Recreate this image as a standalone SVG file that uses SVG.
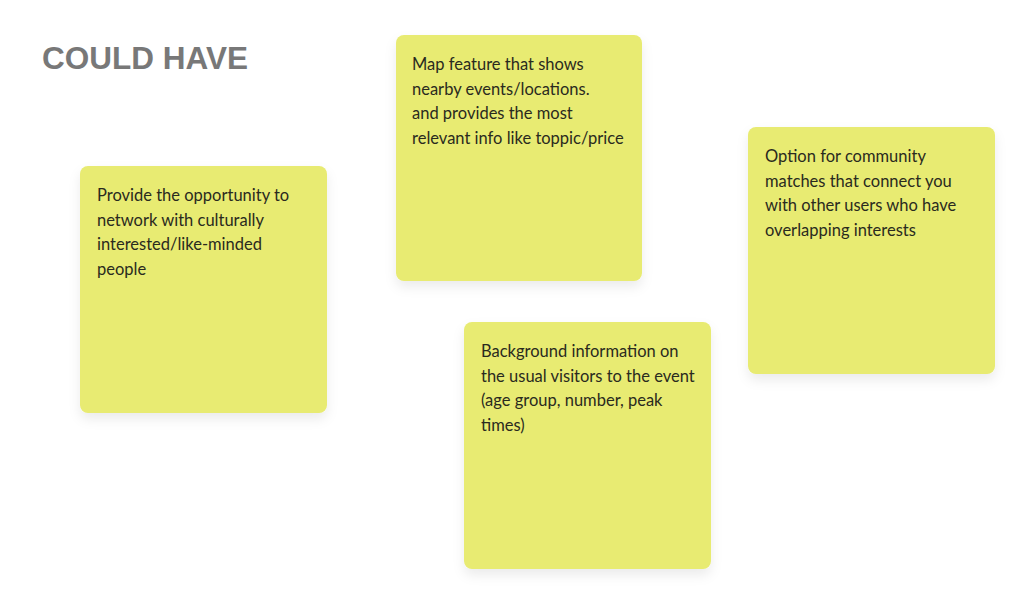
<svg xmlns="http://www.w3.org/2000/svg" width="1024" height="598" viewBox="0 0 1024 598">
<defs>
<filter id="sh" x="-20%" y="-20%" width="140%" height="150%">
<feDropShadow dx="0" dy="6" stdDeviation="6" flood-color="#000" flood-opacity="0.08"/>
</filter>
</defs>
<style>
.note{fill:#E8EB72;filter:url(#sh)}
.t{font-family:Lato,"Liberation Sans",sans-serif;font-size:16.5px;fill:#2a2a1e}
.title{font-family:"Liberation Sans",Arial,sans-serif;font-weight:bold;font-size:32px;fill:#787878}
</style>
<rect width="1024" height="598" fill="#ffffff"/>
<text class="title" x="42" y="69" textLength="206" lengthAdjust="spacingAndGlyphs">COULD HAVE</text>
<g id="connectors"/>
<g id="note1">
<rect class="note" x="80" y="166" width="247" height="247" rx="8"/>
<text class="t" x="97" y="201">Provide the opportunity to</text>
<text class="t" x="97" y="226">network with culturally</text>
<text class="t" x="97" y="250">interested/like-minded</text>
<text class="t" x="97" y="275">people</text>
</g>
<g id="note2">
<rect class="note" x="396" y="35" width="246" height="246" rx="8"/>
<text class="t" x="412" y="70">Map feature that shows</text>
<text class="t" x="412" y="95">nearby events/locations.</text>
<text class="t" x="412" y="119">and provides the most</text>
<text class="t" x="412" y="144">relevant info like toppic/price</text>
</g>
<g id="note3">
<rect class="note" x="748" y="127" width="247" height="247" rx="8"/>
<text class="t" x="765" y="162">Option for community</text>
<text class="t" x="765" y="187">matches that connect you</text>
<text class="t" x="765" y="211">with other users who have</text>
<text class="t" x="765" y="236">overlapping interests</text>
</g>
<g id="note4">
<rect class="note" x="464" y="322" width="247" height="247" rx="8"/>
<text class="t" x="481" y="357">Background information on</text>
<text class="t" x="481" y="382">the usual visitors to the event</text>
<text class="t" x="481" y="406">(age group, number, peak</text>
<text class="t" x="481" y="431">times)</text>
</g>
</svg>
